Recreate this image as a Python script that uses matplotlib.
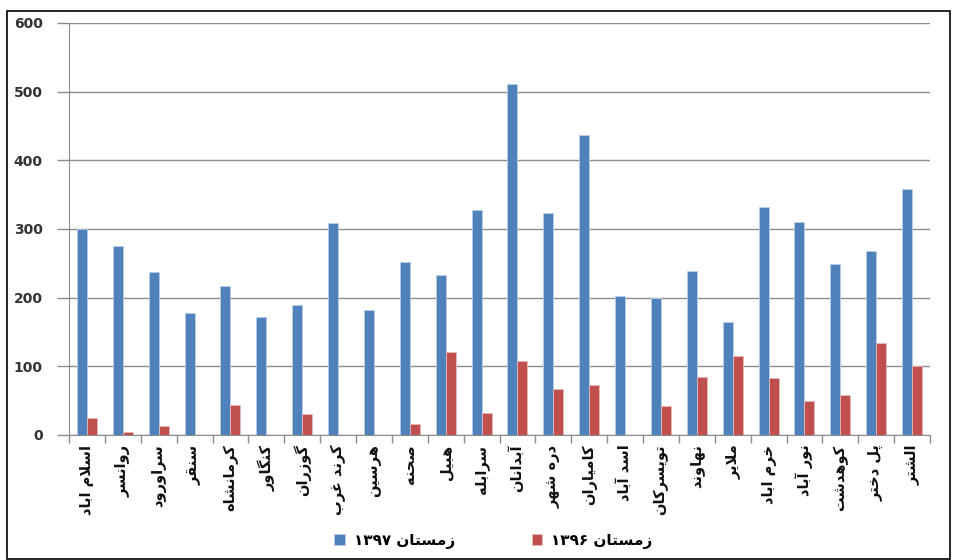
import numpy as np
import matplotlib
matplotlib.use("Agg")
import matplotlib.pyplot as plt
from matplotlib.patches import Rectangle

# Categories (cities) and series values
cities = ['اسلام اباد', 'روانسر', 'سراورود', 'سنقر', 'کرمانشاه', 'کنگاور',
          'گوزران', 'کرند غرب', 'هرسین', 'صحنه', 'هبیل', 'سرابله',
          'آبدانان', 'دره شهر', 'کامیاران', 'اسد آباد', 'تویسرکان', 'نهاوند',
          'ملایر', 'خرم اباد', 'نور آباد', 'کوهدشت', 'پل دختر', 'الشتر']
winter_1397 = [300, 275, 237, 178, 217, 172, 189, 309, 182, 252, 233, 328,
               511, 323, 437, 202, 200, 239, 165, 332, 310, 249, 268, 358]
winter_1396 = [25, 4, 13, 0, 43, 0, 30, 0, 0, 16, 121, 32,
               108, 67, 73, 0, 42, 85, 115, 83, 50, 58, 134, 101]
label_1397 = 'زمستان ۱۳۹۷'
label_1396 = 'زمستان ۱۳۹۶'
yticks = [0, 100, 200, 300, 400, 500, 600]

# matplotlib has no Arabic shaping, so map letters to presentation forms
# (isolated, final, initial, medial); two-form letters do not join forward
FORMS = {
    'ا': ('\uFE8D', '\uFE8E'), 'آ': ('\uFE81', '\uFE82'),
    'ب': ('\uFE8F', '\uFE90', '\uFE91', '\uFE92'),
    'پ': ('\uFB56', '\uFB57', '\uFB58', '\uFB59'),
    'ت': ('\uFE95', '\uFE96', '\uFE97', '\uFE98'),
    'ح': ('\uFEA1', '\uFEA2', '\uFEA3', '\uFEA4'),
    'خ': ('\uFEA5', '\uFEA6', '\uFEA7', '\uFEA8'),
    'د': ('\uFEA9', '\uFEAA'), 'ذ': ('\uFEAB', '\uFEAC'),
    'ر': ('\uFEAD', '\uFEAE'), 'ز': ('\uFEAF', '\uFEB0'),
    'س': ('\uFEB1', '\uFEB2', '\uFEB3', '\uFEB4'),
    'ش': ('\uFEB5', '\uFEB6', '\uFEB7', '\uFEB8'),
    'ص': ('\uFEB9', '\uFEBA', '\uFEBB', '\uFEBC'),
    'غ': ('\uFECD', '\uFECE', '\uFECF', '\uFED0'),
    'ق': ('\uFED5', '\uFED6', '\uFED7', '\uFED8'),
    'ک': ('\uFB8E', '\uFB8F', '\uFB90', '\uFB91'),
    'گ': ('\uFB92', '\uFB93', '\uFB94', '\uFB95'),
    'ل': ('\uFEDD', '\uFEDE', '\uFEDF', '\uFEE0'),
    'م': ('\uFEE1', '\uFEE2', '\uFEE3', '\uFEE4'),
    'ن': ('\uFEE5', '\uFEE6', '\uFEE7', '\uFEE8'),
    'ه': ('\uFEE9', '\uFEEA', '\uFEEB', '\uFEEC'),
    'و': ('\uFEED', '\uFEEE'),
    'ی': ('\uFBFC', '\uFBFD', '\uFBFE', '\uFBFF'),
}
LAM_ALEF = {'ا': ('\uFEFB', '\uFEFC'), 'آ': ('\uFEF5', '\uFEF6')}


def shape_word(word):
    out = []
    i = 0
    while i < len(word):
        ch = word[i]
        if ch not in FORMS:
            out.append(ch)
            i += 1
            continue
        prev = word[i - 1] if i > 0 else None
        joins_prev = prev in FORMS and len(FORMS[prev]) == 4
        # lam + alef ligature
        if ch == 'ل' and i + 1 < len(word) and word[i + 1] in LAM_ALEF:
            out.append(LAM_ALEF[word[i + 1]][1 if joins_prev else 0])
            i += 2
            continue
        nxt = word[i + 1] if i + 1 < len(word) else None
        f = FORMS[ch]
        joins_next = len(f) == 4 and nxt in FORMS
        if joins_prev and joins_next:
            out.append(f[3])
        elif joins_prev:
            out.append(f[1])
        elif joins_next:
            out.append(f[2])
        else:
            out.append(f[0])
        i += 1
    return ''.join(out)


def rtl(text):
    words = text.split(' ')
    vis = []
    for w in reversed(words):
        if any(c in FORMS for c in w):
            vis.append(shape_word(w)[::-1])
        else:
            vis.append(w)
    return ' '.join(vis)


blue = '#4F81BD'
red = '#C0504D'
grid_c = '#8C8C8C'

fig = plt.figure(figsize=(9.58, 5.6), dpi=100)
ax = fig.add_axes([69 / 958, 1 - 435 / 560, (930 - 69) / 958, (435 - 23) / 560])

x = np.arange(len(cities))
w = 0.28
ax.bar(x - w / 2, winter_1397, w, color=blue, edgecolor='#B9CDE5', linewidth=0.6,
       label=rtl(label_1397), zorder=3)
ax.bar(x + w / 2, winter_1396, w, color=red, edgecolor='#E6B9B8', linewidth=0.6,
       label=rtl(label_1396), zorder=3)

ax.set_xlim(-0.5, len(cities) - 0.5)
ax.set_ylim(0, 600)
ax.set_yticks(yticks)
ax.set_yticklabels([str(v) for v in yticks], fontsize=10, fontweight='bold', color='#333333')
ax.yaxis.grid(True, color=grid_c, linewidth=1.0, zorder=0)
ax.tick_params(axis='y', length=9, width=1, color=grid_c, pad=10)

# category boundary ticks
ax.set_xticks(np.arange(len(cities) + 1) - 0.5, minor=False)
ax.set_xticklabels([])
ax.tick_params(axis='x', length=6, width=1, color=grid_c)
for i, name in enumerate(cities):
    ax.text(i, -14, rtl(name), rotation=90, ha='center', va='top',
            fontsize=10.5, fontweight='bold', color='#111111')

for s in ['top', 'right']:
    ax.spines[s].set_visible(False)
ax.spines['left'].set_color(grid_c)
ax.spines['bottom'].set_color(grid_c)

fig.legend(loc='center', bbox_to_anchor=(0.515, 0.034), ncol=2, frameon=False,
           prop={'size': 11, 'weight': 'bold'}, handlelength=0.7, handleheight=0.7,
           columnspacing=5.0, handletextpad=0.6)

fig.patches.append(Rectangle((7 / 958, 1 / 560), 943 / 958, 548 / 560, fill=False,
                             edgecolor='black', linewidth=1.2, transform=fig.transFigure))

fig.savefig('out.png', dpi=100)
